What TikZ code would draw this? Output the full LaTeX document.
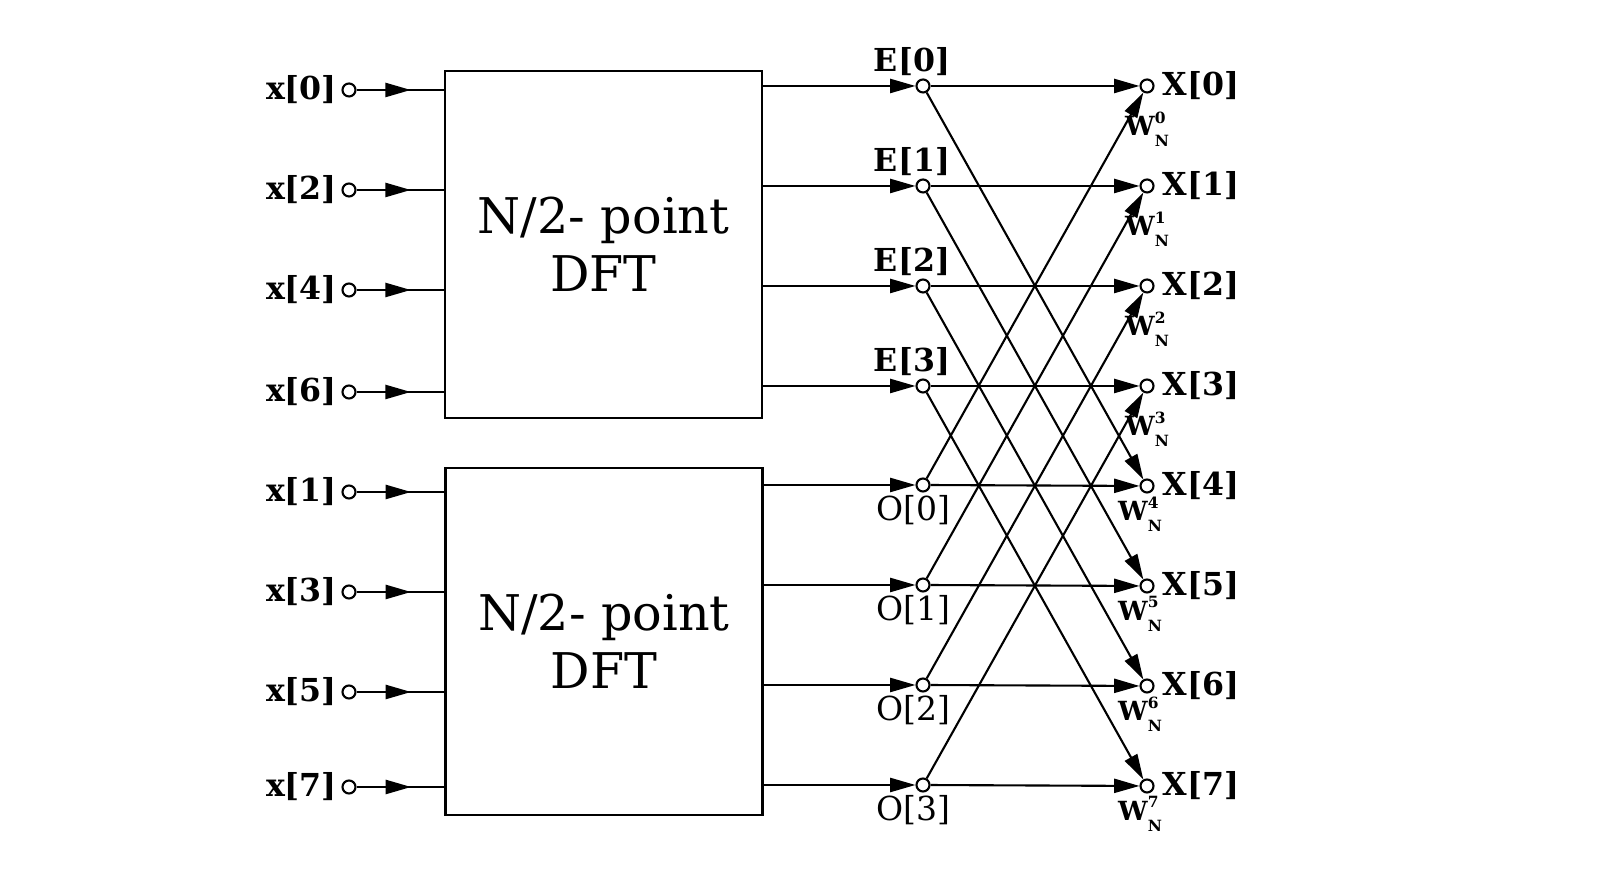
\documentclass[tikz,border=0pt]{standalone}
\usepackage{fontspec}
\setmainfont{DejaVu Serif}
\usetikzlibrary{positioning,arrows.meta,decorations.markings}
\tikzset{
port/.style={
  circle,
  draw,
  fill=white,
  inner sep=0pt,
  minimum size=0.13cm
  },
dftbox/.style={
  draw,
  minimum width=3.17cm,
  minimum height=3.47cm,
  align=center,
  font=\fontsize{14}{16.5}\selectfont
  },
sig/.style={
  font=\bfseries\fontsize{9}{10}\selectfont,
  inner sep=0.5pt
  },
odd/.style={
  font=\fontsize{9.4}{10}\selectfont,
  inner sep=0.5pt
  },
wlbl/.style={
  font=\bfseries\fontsize{7.5}{8}\selectfont,
  inner sep=0pt
  },
midarrow/.style={
  postaction={decorate},
  decoration={markings,mark=at position #1 with {\arrow{Triangle[length=7.2pt,width=4pt]}}}
  }
}
\newcommand{\twiddle}[1]{W\raisebox{-0.8ex}{\fontsize{4.4}{5.4}\selectfont\shortstack[l]{#1\\[0.5pt]N}}}

\begin{document}
\begin{tikzpicture}[>={Triangle[length=7.2pt,width=4pt]},line width=0.6pt]
\useasboundingbox (0,0) rectangle (16,8.96);

\node[dftbox] (dft0) at (6.035,6.515) {N/2- point\\DFT};
\node[dftbox] (dft1) at (6.04,2.545) {N/2- point\\DFT};

% inputs
\foreach \n/\y in {0/8.06,2/7.06,4/6.06,6/5.04,1/4.04,3/3.04,5/2.04,7/1.09}{
  \node[port] (in\n) at (3.49,\y) {};
  \node[sig,left=0.5pt of in\n] (lx\n) {x[\n]};
}
\foreach \n in {0,2,4,6}
  \draw[midarrow=0.62] (in\n) -- (dft0.west |- in\n);
\foreach \n in {1,3,5,7}
  \draw[midarrow=0.62] (in\n) -- (dft1.west |- in\n);

% even and odd halves
\foreach \k in {0,...,3}{
  \node[port] (e\k) at (9.23,8.10-\k) {};
  \node[port] (o\k) at (9.23,4.11-\k) {};
  \node[sig,above=0pt of e\k,xshift=-0.11cm] (le\k) {E[\k]};
  \node[odd,below=0pt of o\k,xshift=-0.1cm] (lo\k) {O[\k]};
  \draw[->] (dft0.east |- e\k) -- (e\k);
  \draw[->] (dft1.east |- o\k) -- (o\k);
}

% outputs
\foreach \k in {0,...,7}{
  \node[port] (X\k) at (11.47,8.10-\k) {};
  \node[sig,right=1.5pt of X\k] (lX\k) {X[\k]};
}
\foreach \k in {0,...,3}
  \node[wlbl,below=0.17cm of X\k] (w\k) {\twiddle{\k}};
\foreach \k in {4,...,7}
  \node[wlbl,below=0.02cm of X\k,xshift=-0.07cm] (w\k) {\twiddle{\k}};

% butterflies
\foreach \k in {0,...,3}{
  \pgfmathtruncatemacro{\j}{\k+4}
  \draw[->] (e\k) -- (X\k);
  \draw[->] (e\k) -- (X\j);
  \draw[->] (o\k) -- (X\j);
  \draw[->] (o\k) -- (X\k);
}
\end{tikzpicture}
\end{document}
